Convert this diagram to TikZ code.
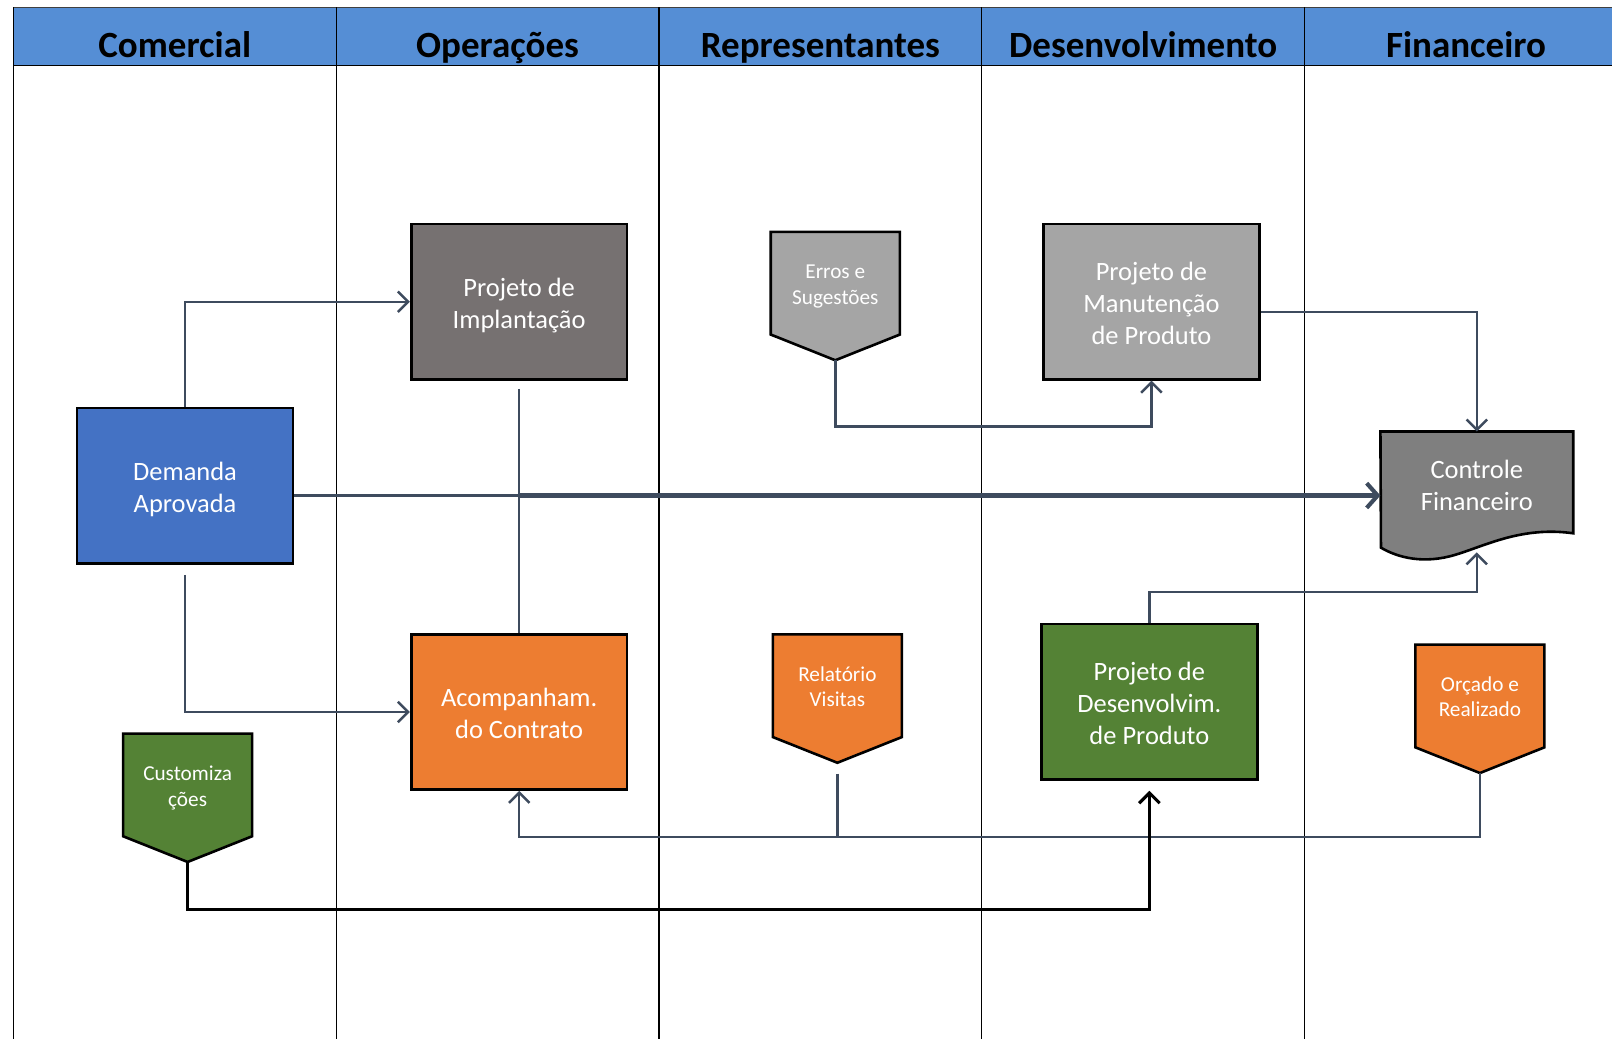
\documentclass[tikz,border=0pt]{standalone}
\usepackage{fontspec}
\setmainfont{Carlito}
\usetikzlibrary{arrows.meta,backgrounds,calc}

\definecolor{headblue}{RGB}{85,142,213}
\definecolor{demblue}{RGB}{68,114,196}
\definecolor{darkgray}{RGB}{118,113,113}
\definecolor{lightgray}{RGB}{165,165,165}
\definecolor{docgray}{RGB}{127,127,127}
\definecolor{boxorange}{RGB}{237,125,49}
\definecolor{boxgreen}{RGB}{84,130,53}
\definecolor{connc}{RGB}{62,75,94}

\tikzset{
  lane/.style={draw=black, line width=0.8pt},
  headtext/.style={anchor=base, font=\fontsize{27}{32}\selectfont\bfseries, text=black},
  procbox/.style={draw=black, line width=1.9pt, minimum width=157.5pt, minimum height=113.25pt,
    inner sep=0pt, text=white, font=\fontsize{19.3}{23.5}\selectfont},
  tagnode/.style={minimum width=93.75pt, minimum height=74.5pt, inner sep=0pt,
    text=white, font=\fontsize{15.5}{18.5}\selectfont},
  docnode/.style={minimum width=140.25pt, minimum height=76.5pt, inner sep=0pt,
    text=white, font=\fontsize{19.3}{23.5}\selectfont},
  outline/.style={draw=black, line width=1.9pt, line join=miter},
  conn/.style={draw=connc, line width=1.8pt},
  thickconn/.style={draw=connc, line width=3pt},
  blkconn/.style={draw=black, line width=2.2pt},
  barb/.style={-{Straight Barb[length=7.5pt,width=15pt]}},
  bigbarb/.style={-{Straight Barb[length=8pt,width=18pt]}},
}

% centred block of lines, lowered by #1 so the lines sit on the box centre
\newcommand\boxlines[2]{\raisebox{#1}[0pt][0pt]{\begin{tabular}{@{}c@{}}#2\end{tabular}}}

% off-page tag: rectangle of the node plus a pointed bottom
\newcommand\tagshape[2]{%
  \begin{pgfonlayer}{background}
    \filldraw[outline, fill=#2] (#1.north west) -- (#1.north east) -- (#1.south east)
      -- ([yshift=-18.75pt]#1.south) -- (#1.south west) -- cycle;
  \end{pgfonlayer}
  \coordinate (#1-tip) at ([yshift=-18.75pt]#1.south);
}

\begin{document}
\begin{tikzpicture}[x=0.75pt,y=-0.75pt]
\useasboundingbox (0,0) rectangle (1568,1010);
\clip (0,0) rectangle (1568,1010);

% swimlane header and lanes
\fill[headblue] (13,7) rectangle (1590,64);
\draw[draw=black!75, line width=0.9pt] (13,7) -- (1590,7);
\draw[lane] (13,64) -- (1590,64);
\foreach \x in {13,327,641,955,1269} {
  \draw[lane] (\x,7) -- (\x,1012);
}
\node[headtext] (hcom) at (170,56) {Comercial};
\node[headtext] (hop)  at (484,56) {Operações};
\node[headtext] (hrep) at (798,56) {Representantes};
\node[headtext] (hdev) at (1112,56) {Desenvolvimento};
\node[headtext] (hfin) at (1426,56) {Financeiro};

% process boxes
\node[procbox, fill=demblue]   (dem)    at (180,472.5)  {\boxlines{-8.3pt}{Demanda\\Aprovada}};
\node[procbox, fill=darkgray]  (impl)   at (505,293.5)  {\boxlines{-8.3pt}{Projeto de\\Implantação}};
\node[procbox, fill=boxorange] (acomp)  at (505,692.5)  {\boxlines{-8.3pt}{Acompanham.\\do Contrato}};
\node[procbox, fill=lightgray] (manut)  at (1120,293.5) {\boxlines{-8.2pt}{Projeto de\\Manutenção\\de Produto}};
\node[procbox, fill=boxgreen]  (desenv) at (1118,682.5) {\boxlines{-8.4pt}{Projeto de\\Desenvolvim.\\de Produto}};

% off-page tags
\node[tagnode] (erros) at (812.5,275.5)  {\boxlines{-5.9pt}{Erros e\\Sugestões}};
\tagshape{erros}{lightgray}
\node[tagnode] (relat) at (814.5,667)    {\boxlines{-5.9pt}{Relatório\\Visitas}};
\tagshape{relat}{boxorange}
\node[tagnode] (orc)   at (1439.5,677)   {\boxlines{-5.9pt}{Orçado e\\Realizado}};
\tagshape{orc}{boxorange}
\node[tagnode] (cust)  at (182.5,763.5)  {\boxlines{-6.2pt}{Customiza\\ções}};
\tagshape{cust}{boxgreen}

% document shape
\node[docnode] (ctrl) at (1436.5,471) {\boxlines{-8.1pt}{Controle\\Financeiro}};
\begin{pgfonlayer}{background}
  \filldraw[outline, fill=docgray] (ctrl.north west) -- (ctrl.north east) -- ++(0,99)
    .. controls +(-50,-7) and +(30,-9) .. ++(-115,21)
    .. controls +(-30,9) and +(17,10) .. ++(-72,-7) -- cycle;
\end{pgfonlayer}
\coordinate (ctrl-bottom) at ([yshift=-11.25pt]ctrl.south);

% connectors
\draw[conn, barb] (dem.north) |- (impl.west);
\draw[conn, barb, shorten <=7.5pt] (dem.south) |- (acomp.west);
\coordinate (split) at (impl.south |- 0,482);
\draw[conn] (dem.east |- split) -- (split);
\draw[thickconn, bigbarb] (split) -- (ctrl.west |- split);
\draw[conn, shorten <=6pt] (impl.south) -- (acomp.north);
\draw[conn, barb] (erros-tip) -- (erros-tip |- 0,415) -| (manut.south);
\draw[conn, barb] ([yshift=-7.5pt]manut.east) -| (ctrl.north);
\draw[conn, barb] (desenv.north) -- (desenv.north |- 0,576) -| (ctrl-bottom);
\draw[conn, barb] (orc-tip) -- (orc-tip |- 0,814) -| (acomp.south);
\draw[conn, shorten <=8pt] (relat-tip) -- (relat-tip |- 0,814);
\draw[blkconn, barb, shorten >=7.5pt] (cust-tip) -- (cust-tip |- 0,885) -| (desenv.south);
\end{tikzpicture}
\end{document}
